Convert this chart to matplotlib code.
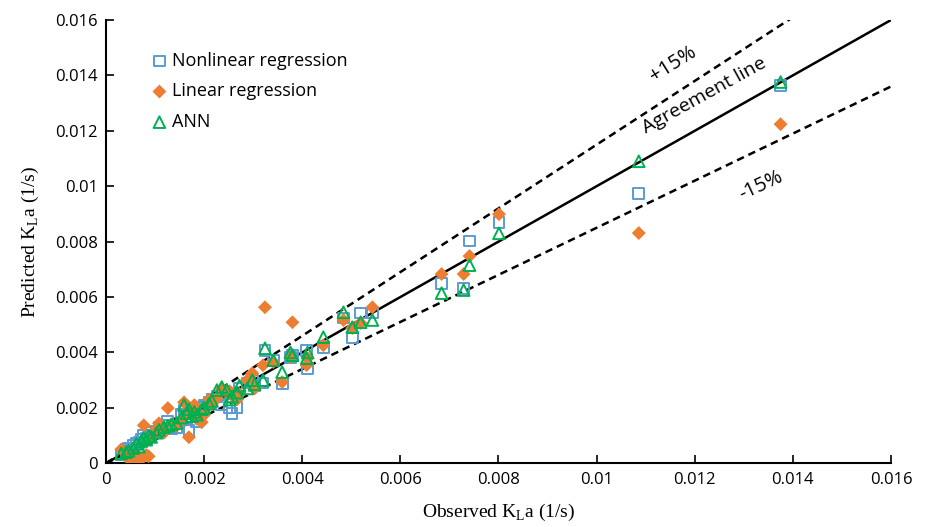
import matplotlib
matplotlib.use("Agg")
import matplotlib.pyplot as plt
import numpy as np

# observed KLa and the three model predictions (1/s)
observed = [0.00031, 0.00041, 0.00046, 0.00056, 0.00062, 0.00067, 0.00072, 0.00077,
            0.00082, 0.00087, 0.00092, 0.00103, 0.00108, 0.00118, 0.00126, 0.00133,
            0.00144, 0.00154, 0.00159, 0.00164, 0.00169, 0.00175, 0.00180, 0.00185,
            0.00195, 0.00200, 0.00210, 0.00216, 0.00226, 0.00236, 0.00246, 0.00252,
            0.00257, 0.00267, 0.00272, 0.00288, 0.00298, 0.00303, 0.00320, 0.00324,
            0.00341, 0.00359, 0.00376, 0.00380, 0.00409, 0.00411, 0.00443, 0.00484,
            0.00502, 0.00519, 0.00543, 0.00684, 0.00729, 0.00741, 0.00801, 0.01086,
            0.01375]
nonlinear = [0.00030, 0.00045, 0.00055, 0.00065, 0.00070, 0.00075, 0.00085, 0.00100,
             0.00090, 0.00095, 0.00110, 0.00115, 0.00130, 0.00135, 0.00150, 0.00125,
             0.00130, 0.00175, 0.00191, 0.00160, 0.00119, 0.00180, 0.00190, 0.00150,
             0.00200, 0.00210, 0.00220, 0.00230, 0.00240, 0.00210, 0.00250, 0.00202,
             0.00180, 0.00200, 0.00270, 0.00290, 0.00300, 0.00280, 0.00290, 0.00408,
             0.00372, 0.00289, 0.00383, 0.00390, 0.00408, 0.00343, 0.00419, 0.00524,
             0.00455, 0.00542, 0.00542, 0.00650, 0.00632, 0.00802, 0.00870, 0.00975,
             0.01365]
linear = [0.00050, 0.00035, 0.00015, 0.00010, 0.00025, 0.00020, 0.00015, 0.00137,
          0.00030, 0.00025, 0.00090, 0.00125, 0.00144, 0.00110, 0.00199, 0.00140,
          0.00135, 0.00160, 0.00220, 0.00175, 0.00094, 0.00195, 0.00210, 0.00160,
          0.00148, 0.00175, 0.00230, 0.00215, 0.00235, 0.00270, 0.00255, 0.00260,
          0.00245, 0.00230, 0.00250, 0.00300, 0.00325, 0.00270, 0.00354, 0.00563,
          0.00365, 0.00293, 0.00383, 0.00509, 0.00354, 0.00379, 0.00426, 0.00517,
          0.00488, 0.00506, 0.00563, 0.00683, 0.00683, 0.00748, 0.00899, 0.00831,
          0.01224]
ann = [0.00035, 0.00040, 0.00045, 0.00055, 0.00070, 0.00060, 0.00080, 0.00090,
       0.00085, 0.00100, 0.00095, 0.00110, 0.00120, 0.00130, 0.00135, 0.00140,
       0.00145, 0.00165, 0.00210, 0.00180, 0.00195, 0.00170, 0.00185, 0.00175,
       0.00195, 0.00200, 0.00215, 0.00225, 0.00264, 0.00275, 0.00265, 0.00230,
       0.00240, 0.00255, 0.00280, 0.00270, 0.00300, 0.00285, 0.00300, 0.00415,
       0.00372, 0.00329, 0.00400, 0.00390, 0.00379, 0.00400, 0.00455, 0.00545,
       0.00491, 0.00509, 0.00517, 0.00614, 0.00625, 0.00715, 0.00830, 0.01090,
       0.01376]

ticks = [0, 0.002, 0.004, 0.006, 0.008, 0.01, 0.012, 0.014, 0.016]

blue = "#5B9BD5"
orange = "#ED7D31"
green = "#00B050"

fig = plt.figure(figsize=(9.3, 5.27), dpi=100)
ax = fig.add_axes([0.114, 0.121, 0.844, 0.841])

line_x = np.array([0, 0.016])
ax.plot(line_x, line_x, color="black", lw=1.8, zorder=1)
ax.plot(line_x, 1.15 * line_x, color="black", lw=1.8, ls=(0, (3, 2)), zorder=1)
ax.plot(line_x, 0.85 * line_x, color="black", lw=1.8, ls=(0, (3, 2)), zorder=1)

ax.scatter(observed, nonlinear, marker="s", s=60, facecolors="none",
           edgecolors=blue, linewidths=1.4, label="Nonlinear regression", zorder=2)
ax.scatter(observed, linear, marker="D", s=50, color=orange, edgecolors="none",
           label="Linear regression", zorder=3)
ax.scatter(observed, ann, marker="^", s=70, facecolors="none",
           edgecolors=green, linewidths=1.4, label="ANN", zorder=4)

ax.set_xlim(0, 0.016)
ax.set_ylim(0, 0.016)
ax.set_xticks(ticks)
ax.set_yticks(ticks)
ax.set_xticklabels([f"{t:g}" for t in ticks], family="Open Sans", fontsize=12)
ax.set_yticklabels([f"{t:g}" for t in ticks], family="Open Sans", fontsize=12)
ax.tick_params(direction="in", length=6, width=1.2, pad=6)
for s in ["top", "right"]:
    ax.spines[s].set_visible(False)
for s in ["left", "bottom"]:
    ax.spines[s].set_linewidth(1.5)

ax.set_xlabel(r"Observed K$_\mathregular{L}$a (1/s)", family="Liberation Serif",
              fontsize=14, labelpad=10)
ax.set_ylabel(r"Predicted K$_\mathregular{L}$a (1/s)", family="Liberation Serif",
              fontsize=14, labelpad=10)

ax.text(0.01155, 0.01440, "+15%", rotation=32, fontsize=14.5, family="Open Sans",
        ha="center", va="center")
ax.text(0.0122, 0.01329, "Agreement line", rotation=29, fontsize=14,
        family="Open Sans", ha="center", va="center")
ax.text(0.01335, 0.01002, "-15%", rotation=25, fontsize=14.5, family="Open Sans",
        ha="center", va="center")

leg = ax.legend(loc="upper left", bbox_to_anchor=(0.045, 0.945), frameon=False,
                prop={"family": "Open Sans", "size": 13}, handletextpad=0.1,
                labelspacing=0.7, borderaxespad=0, handlelength=1.2)

fig.savefig("out.png", dpi=100)
